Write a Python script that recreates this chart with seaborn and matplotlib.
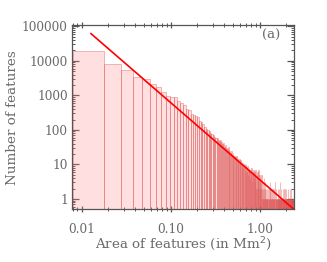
import numpy as np
import pandas as pd
import matplotlib
matplotlib.use("Agg")
import matplotlib.pyplot as plt
import seaborn as sns
from matplotlib.ticker import FixedLocator, LogLocator, NullFormatter

# histogram of feature areas, bins of 0.01 Mm^2 starting at 0.008
bin_start = 0.008
bin_width = 0.01
counts = [
    19000, 8000, 5400, 3300, 2900, 2100, 1700, 1250, 950, 900,
    880, 680, 620, 520, 400, 370, 290, 270, 245, 230,
    180, 165, 150, 120, 105, 98, 90, 82, 76, 70,
    64, 58, 60, 52, 47, 50, 44, 40, 42, 33,
    36, 30, 28, 31, 26, 24, 22, 25, 19, 21,
    17, 18, 16, 14, 17, 13, 15, 12, 14, 11,
    13, 10, 12, 9, 11, 8, 10, 7, 9, 10,
    6, 8, 9, 5, 7, 8, 6, 4, 7, 5,
    8, 3, 6, 5, 7, 4, 6, 3, 5, 7,
    4, 2, 5, 6, 3, 4, 7, 2, 5, 3,
    4, 2, 3, 1, 5, 2, 1, 3, 2, 1, 4, 1, 2, 1, 3, 1, 2, 1, 1, 2,
    1, 1, 2, 1, 0, 1, 1, 1, 2, 1, 3, 1, 1, 0, 1, 2, 1, 1, 1, 0,
    1, 1, 2, 1, 1, 1, 0, 1, 3, 1, 1, 2, 1, 0, 1, 1, 1, 1, 2, 1,
    1, 0, 1, 1, 1, 2, 1, 1, 3, 1, 1, 0, 1, 1, 2, 1, 1, 1, 0, 1,
    1, 1, 2, 1, 0, 1, 1, 1, 1, 2, 1, 0, 1, 1, 1, 1, 0, 1, 2, 1,
    1, 1, 0, 1, 1, 1, 1, 2, 1, 0, 1, 1, 1, 0, 1, 1, 2, 1, 1, 0,
    1, 1, 1, 0, 1, 1, 2, 1, 0, 1, 1, 1, 1, 0, 1, 1, 1, 0, 1, 1, 2, 1, 1,
]

# power-law fit line
fit_x = [0.0127, 2.45]
fit_y = [6.2e4, 0.49]

xticks = [0.01, 0.1, 1.0]
xtick_labels = ["0.01", "0.10", "1.00"]
yticks = [1, 10, 100, 1000, 10000, 100000]
ytick_labels = ["1", "10", "100", "1000", "10000", "100000"]

edges = [bin_start + bin_width * i for i in range(len(counts) + 1)]
centers = [(a + b) / 2 for a, b in zip(edges[:-1], edges[1:])]
df = pd.DataFrame({"area": centers, "n": counts})

sns.set_style("ticks")
plt.rcParams["font.family"] = ["DejaVu Serif"]
text_col = "#6a6a6a"
axis_col = "#555555"

fig = plt.figure(figsize=(3.27, 2.62), dpi=100)
ax = fig.add_axes([0.220, 0.201, 0.679, 0.704])

sns.histplot(data=df, x="area", weights="n", bins=edges, ax=ax,
             facecolor=(1.0, 0.55, 0.55, 0.27),
             edgecolor=(0.85, 0.3, 0.3, 0.38), linewidth=0.7)
sns.lineplot(x=fit_x, y=fit_y, ax=ax, color="red", linewidth=1.2)

ax.set_xscale("log")
ax.set_yscale("log")
ax.set_xlim(0.0078, 2.43)
ax.set_ylim(0.5, 1.1e5)

ax.xaxis.set_major_locator(FixedLocator(xticks))
ax.set_xticklabels(xtick_labels)
ax.yaxis.set_major_locator(FixedLocator(yticks))
ax.set_yticklabels(ytick_labels)
ax.xaxis.set_minor_locator(LogLocator(base=10, subs=np.arange(2, 10)))
ax.yaxis.set_minor_locator(LogLocator(base=10, subs=np.arange(2, 10)))
ax.xaxis.set_minor_formatter(NullFormatter())
ax.yaxis.set_minor_formatter(NullFormatter())

for sp in ax.spines.values():
    sp.set_color(axis_col)
    sp.set_linewidth(0.9)

ax.tick_params(which="both", colors=axis_col, labelcolor=text_col,
               labelsize=8.7, top=True, right=True)
ax.tick_params(axis="x", which="both", direction="inout")
ax.tick_params(axis="y", which="both", direction="in")
ax.tick_params(which="major", length=5, width=0.9)
ax.tick_params(which="minor", length=2.5, width=0.7)
ax.tick_params(axis="x", which="major", pad=7)
ax.tick_params(axis="y", which="major", pad=3)

ax.set_xlabel("Area of features (in Mm$^2$)", fontsize=9.7, color=text_col, labelpad=0)
ax.set_ylabel("Number of features", fontsize=9.7, color=text_col, labelpad=2)
ax.text(0.94, 0.945, "(a)", transform=ax.transAxes, ha="right", va="center",
        fontsize=9.5, color=text_col)

fig.savefig("out.png", dpi=100)
